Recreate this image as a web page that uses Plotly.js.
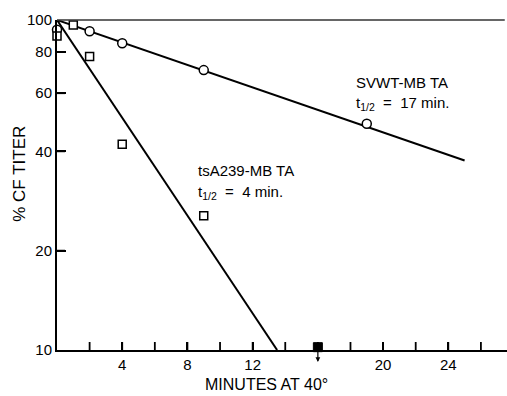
<!DOCTYPE html>
<html>
<head>
<meta charset="utf-8">
<script src="https://cdn.plot.ly/plotly-3.0.1.min.js"></script>
<style>html,body{margin:0;padding:0;background:#fff;}#chart{width:507px;height:396px;}</style>
</head>
<body>
<div id="chart"></div>
<script>
// SVWT-MB TA (open circles)
const svwtMinutes = [0, 2, 4, 9, 19];
const svwtTiter = [93.5, 92.5, 85, 70.5, 48.5];
// fitted line, t1/2 = 17 min
const svwtLineMinutes = [0, 25];
const svwtLineTiter = [100, 37.5];

// tsA239-MB TA (open squares)
const tsaMinutes = [0, 1, 2, 4, 9];
const tsaTiter = [89.5, 96.5, 77.5, 42, 25.5];
// fitted line, t1/2 = 4 min
const tsaLineMinutes = [0, 13.5];
const tsaLineTiter = [100, 10];

// below-detection point (filled square with arrow)
const limitMinutes = [16];
const limitTiter = [10.2];

// axis ticks
const xTickMarks = [2, 4, 6, 8, 10, 12, 14, 16, 18, 20, 22, 24, 26];
const xLabelVals = [4, 8, 12, 20, 24];
const xLabelText = ['4', '8', '12', '20', '24'];
const yTickMarks = [20, 40, 60, 80];
const yLabelVals = [10, 20, 40, 60, 80, 100];
const yLabelText = ['10', '20', '40', '60', '80', '100'];

const ink = '#000';
const font = {family: 'Liberation Sans, Arial, sans-serif', color: ink};

// inward tick marks drawn as short segments on the axes' own scales
const xTickLenFactor = Math.pow(10, 8 / 330);   // ~8 px on the log axis
const yTickLenMinutes = 8 / (450 / 27.6);       // ~8 px on the minutes axis
const tickX = [], tickY = [];
xTickMarks.forEach(v => { tickX.push(v, v, null); tickY.push(10, 10 * xTickLenFactor, null); });
yTickMarks.forEach(v => { tickX.push(0, yTickLenMinutes, null); tickY.push(v, v, null); });

const traces = [
  {x: tickX, y: tickY, mode: 'lines', line: {color: ink, width: 1.8}, hoverinfo: 'skip', connectgaps: false},
  {x: svwtLineMinutes, y: svwtLineTiter, mode: 'lines', line: {color: ink, width: 2}, hoverinfo: 'skip'},
  {x: tsaLineMinutes, y: tsaLineTiter, mode: 'lines', line: {color: ink, width: 2}, hoverinfo: 'skip'},
  {x: svwtMinutes, y: svwtTiter, mode: 'markers', cliponaxis: false,
   marker: {symbol: 'circle', size: 9, color: '#fff', line: {color: ink, width: 1.5}}},
  {x: tsaMinutes, y: tsaTiter, mode: 'markers', cliponaxis: false,
   marker: {symbol: 'square', size: 8, color: '#fff', line: {color: ink, width: 1.5}}},
  {x: limitMinutes, y: limitTiter, mode: 'markers', cliponaxis: false,
   marker: {symbol: 'square', size: 9, color: ink, line: {color: ink, width: 1}}}
];

const layout = {
  width: 507, height: 396,
  margin: {l: 57, r: 0, t: 20, b: 46},
  paper_bgcolor: '#fff', plot_bgcolor: '#fff',
  showlegend: false,
  font: Object.assign({size: 15}, font),
  xaxis: {
    range: [0, 27.6], showgrid: false, zeroline: false,
    showline: true, linecolor: ink, linewidth: 2,
    tickmode: 'array', tickvals: xLabelVals, ticktext: xLabelText,
    ticks: 'inside', ticklen: 8, tickwidth: 2, tickcolor: ink,
    tickfont: Object.assign({size: 15}, font)
  },
  yaxis: {
    type: 'log', range: [1, 2], showgrid: false, zeroline: false,
    showline: true, linecolor: ink, linewidth: 2,
    tickmode: 'array', tickvals: yLabelVals, ticktext: yLabelText,
    ticks: 'inside', ticklen: 9, tickwidth: 2, tickcolor: ink,
    tickfont: Object.assign({size: 15}, font)
  },
  shapes: [
    {type: 'line', xref: 'paper', yref: 'paper', x0: 0, x1: 0.995, y0: 1, y1: 1, line: {color: '#333', width: 1.5}}
  ],
  annotations: [
    {xref: 'x', yref: 'paper', x: 16, y: -12 / 330, ax: 0, ay: -14, text: '', showarrow: true,
     arrowhead: 2, arrowsize: 0.8, arrowwidth: 1.2, arrowcolor: ink},
    {xref: 'paper', yref: 'paper', x: (266 - 57) / 450, y: (350 - 385) / 330, yanchor: 'middle', xanchor: 'center',
     text: 'MINUTES AT 40°', showarrow: false, font: Object.assign({size: 16}, font)},
    {xref: 'paper', yref: 'paper', x: -0.085, xanchor: 'center', y: (350 - 174) / 330, yanchor: 'middle',
     textangle: -90, text: '% CF TITER', showarrow: false, font: Object.assign({size: 17}, font)},
    {xref: 'paper', yref: 'paper', x: (354 - 57) / 450, xanchor: 'left', y: (350 - 82) / 330, yanchor: 'middle',
     text: 'SVWT-MB TA', showarrow: false, font: Object.assign({size: 15}, font)},
    {xref: 'paper', yref: 'paper', x: (354 - 57) / 450, xanchor: 'left', y: (350 - 104) / 330, yanchor: 'middle',
     text: 't<sub>1/2</sub>  =  17 min.', showarrow: false, font: Object.assign({size: 15}, font)},
    {xref: 'paper', yref: 'paper', x: (196 - 57) / 450, xanchor: 'left', y: (350 - 170) / 330, yanchor: 'middle',
     text: 'tsA239-MB TA', showarrow: false, font: Object.assign({size: 15}, font)},
    {xref: 'paper', yref: 'paper', x: (196 - 57) / 450, xanchor: 'left', y: (350 - 192) / 330, yanchor: 'middle',
     text: 't<sub>1/2</sub>  =  4 min.', showarrow: false, font: Object.assign({size: 15}, font)}
  ]
};

Plotly.newPlot('chart', traces, layout, {displayModeBar: false});
</script>
</body>
</html>
